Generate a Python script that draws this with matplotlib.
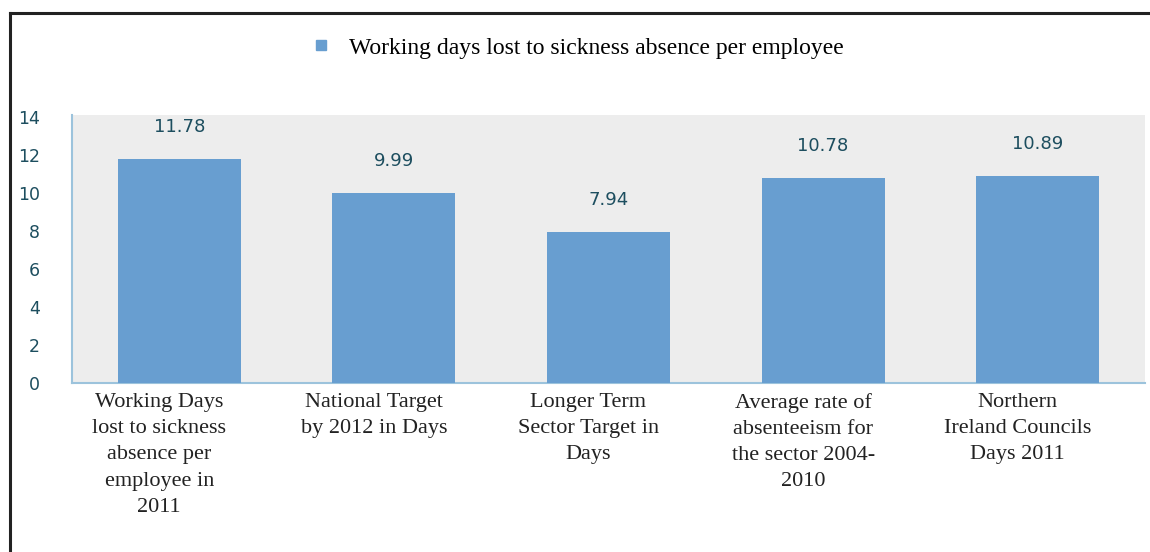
import matplotlib

matplotlib.use("Agg")
import matplotlib.pyplot as plt
from matplotlib.lines import Line2D
from matplotlib.transforms import ScaledTranslation

categories = [
    "Working Days\nlost to sickness\nabsence per\nemployee in\n2011",
    "National Target\nby 2012 in Days",
    "Longer Term\nSector Target in\nDays",
    "Average rate of\nabsenteeism for\nthe sector 2004-\n2010",
    "Northern\nIreland Councils\nDays 2011",
]
days_lost = [11.78, 9.99, 7.94, 10.78, 10.89]
y_ticks = [0, 2, 4, 6, 8, 10, 12, 14]
series_name = "Working days lost to sickness absence per employee"

BAR_COLOR = "#689ed0"
TICK_COLOR = "#1d4e5f"
AXIS_COLOR = "#9cc3dc"
SERIF = ["Liberation Serif", "DejaVu Serif"]

fig = plt.figure(figsize=(11.5, 5.52), dpi=100)
fig.patch.set_facecolor("white")
ax = fig.add_axes([72 / 1150, 1 - 383 / 552, (1145 - 72) / 1150, (383 - 115) / 552])
ax.set_facecolor("#ededed")

x = list(range(len(categories)))
ax.bar(x, days_lost, width=0.573, color=BAR_COLOR, zorder=3)
for xi, v in zip(x, days_lost):
    ax.annotate(f"{v:.2f}", xy=(xi, v), xytext=(0, 23), textcoords="offset points",
                ha="center", va="center", fontsize=13, color=TICK_COLOR)

ax.set_xlim(-0.5, 4.5)
ax.set_ylim(0, 14.1)
ax.set_yticks(y_ticks)
ax.set_yticklabels([str(t) for t in y_ticks], fontsize=12.5, color=TICK_COLOR)
ax.tick_params(axis="y", length=0, pad=23)

ax.set_xticks(x)
ax.set_xticklabels(categories, fontsize=16, family=SERIF, color="#222222",
                   linespacing=1.52, va="top")
ax.tick_params(axis="x", length=0, pad=7)
shift = ScaledTranslation(-20 / 100, 0, fig.dpi_scale_trans)
for lbl in ax.get_xticklabels():
    lbl.set_transform(lbl.get_transform() + shift)

for side in ("top", "right"):
    ax.spines[side].set_visible(False)
ax.spines["left"].set_color(AXIS_COLOR)
ax.spines["bottom"].set_color(AXIS_COLOR)
ax.spines["left"].set_linewidth(1.5)
ax.spines["bottom"].set_linewidth(1.5)

# legend entry centred above the plot
ax.legend([Line2D([], [], marker="s", linestyle="none", color=BAR_COLOR, markersize=7)],
          [series_name], loc="center", bbox_to_anchor=(0.496, 1 - 48 / 552),
          bbox_transform=fig.transFigure, frameon=False, handletextpad=0.2,
          prop={"family": SERIF, "size": 17})

# frame on the left and top edges
fig.add_artist(Line2D([9.5 / 1150, 9.5 / 1150], [0, 1 - 13 / 552],
                      transform=fig.transFigure, color="#222222", linewidth=2.2))
fig.add_artist(Line2D([9.5 / 1150, 1], [1 - 13 / 552, 1 - 13 / 552],
                      transform=fig.transFigure, color="#222222", linewidth=2.2))

fig.savefig("out.png", dpi=100, facecolor="white")
